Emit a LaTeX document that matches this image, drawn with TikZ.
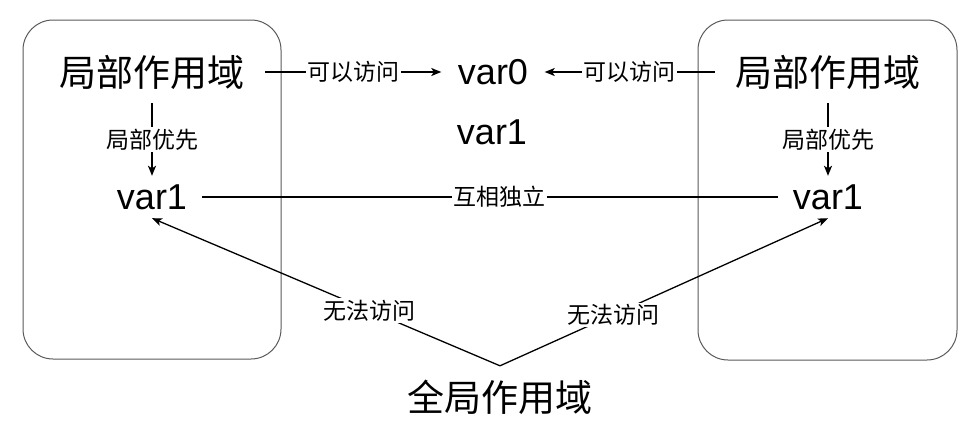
\documentclass[tikz,border=0pt]{standalone}
\usepackage{fontspec}
\setmainfont{Liberation Sans}
\newfontfamily\cjk{Noto Sans CJK SC}
\usetikzlibrary{arrows.meta}
\begin{document}
\begin{tikzpicture}[x=1pt,y=-1pt,
  scopebox/.style={draw=black!65, line width=1pt, rounded corners=30pt},
  big/.style={font=\cjk\fontsize{37}{40}\selectfont, inner sep=0pt},
  varnode/.style={font=\fontsize{36}{40}\selectfont, inner sep=0pt},
  lbl/.style={font=\cjk\fontsize{23}{26}\selectfont, fill=white, inner sep=1.5pt},
  conn/.style={line width=1.3pt, draw=black},
  arr/.style={conn, -{Stealth[length=10pt,width=8pt,inset=2.5pt]}}
]
\useasboundingbox (0,0) rectangle (975,421);
\draw[scopebox] (23,20) rectangle (281,359);
\draw[scopebox] (698,20) rectangle (957,360);

\node[big, minimum width=226pt, minimum height=62pt] (locL) at (152,72) {局部作用域};
\node[big, minimum width=226pt, minimum height=62pt] (locR) at (828,72) {局部作用域};
\node[varnode, minimum width=103pt, minimum height=50pt] (var0) at (493,72) {var0};
\node[varnode] (var1m) at (492,132) {var1};
\node[varnode, minimum width=100pt, minimum height=42pt] (var1L) at (152,197) {var1};
\node[varnode, minimum width=100pt, minimum height=42pt] (var1R) at (828,197) {var1};
\node[big, minimum height=62pt] (glob) at (500,397) {全局作用域};

\draw[arr] (locL.east) -- node[lbl]{可以访问} (var0.west);
\draw[arr] (locR.west) -- node[lbl]{可以访问} (var0.east);
\draw[arr] (locL.south) -- node[lbl]{局部优先} (var1L.north);
\draw[arr] (locR.south) -- node[lbl]{局部优先} (var1R.north);
\draw[conn] (var1L.east) -- node[lbl, pos=0.517]{互相独立} (var1R.west);
\draw[arr] (glob.north) -- node[lbl, pos=0.375]{无法访问} (var1L.south);
\draw[arr] (glob.north) -- node[lbl, pos=0.345]{无法访问} (var1R.south);
\end{tikzpicture}
\end{document}
